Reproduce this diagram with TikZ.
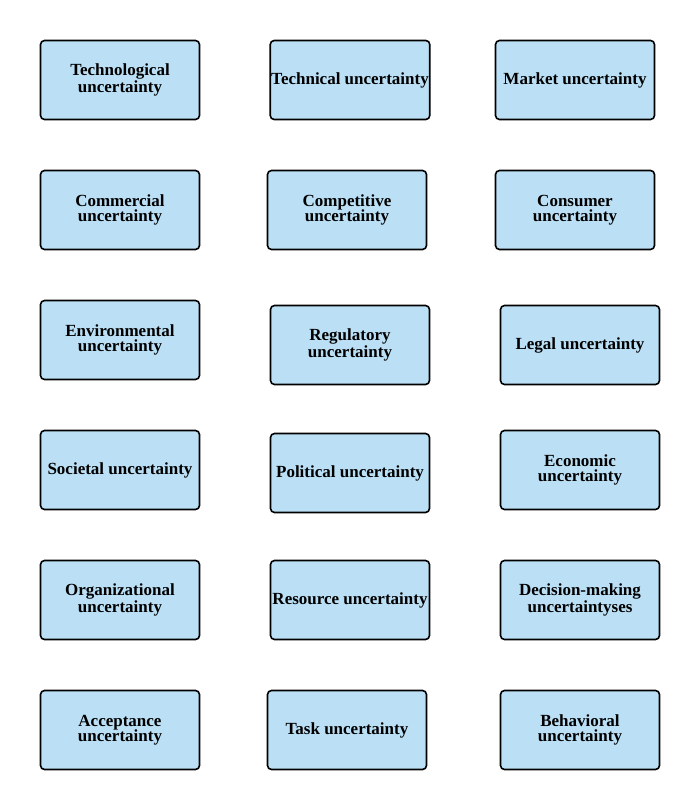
\documentclass[tikz,border=0pt]{standalone}
\usepackage{fontspec}
\setmainfont{Liberation Serif}
\definecolor{BoxBlue}{HTML}{BBE0F6}
\usetikzlibrary{positioning}

\begin{document}
\begin{tikzpicture}[x=1pt,y=-1pt,every node/.style={draw,line width=1.6pt,rounded corners=4pt,fill=BoxBlue,align=center,minimum width=159pt,minimum height=79pt,inner sep=1pt,font=\bfseries\fontsize{17}{15.5}\selectfont}]
      \useasboundingbox (0,0) rectangle (700,810);
      \node (techn) at (120,80) {Technological\\uncertainty};
      \node (tech) at (350,80) {Technical uncertainty};
      \node (mark) at (575,80) {Market uncertainty};
      \node (comm) at (120,210) {Commercial\\uncertainty};
      \node (comp) at (347,210) {Competitive\\uncertainty};
      \node (cons) at (575,210) {Consumer\\uncertainty};
      \node (env) at (120,340) {Environmental\\uncertainty};
      \node (reg) at (350,345) {Regulatory\\uncertainty};
      \node (leg) at (580,345) {Legal uncertainty};
      \node (soc) at (120,470) {Societal uncertainty};
      \node (pol) at (350,473) {Political uncertainty};
      \node (eco) at (580,470) {Economic\\uncertainty};
      \node (org) at (120,600) {Organizational\\uncertainty};
      \node (res) at (350,600) {Resource uncertainty};
      \node (dec) at (580,600) {Decision-making\\uncertaintyses};
      \node (acc) at (120,730) {Acceptance\\uncertainty};
      \node (task) at (347,730) {Task uncertainty};
      \node (beh) at (580,730) {Behavioral\\uncertainty};
    \end{tikzpicture}
\end{document}
